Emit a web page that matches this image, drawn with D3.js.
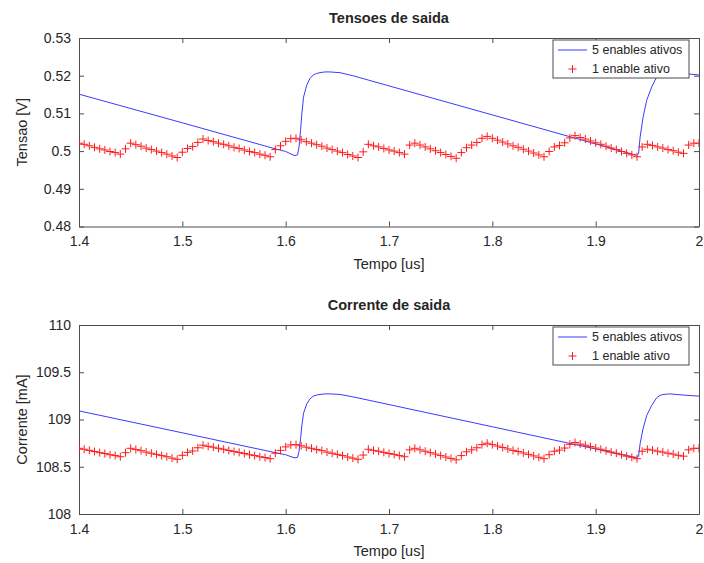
<!DOCTYPE html>
<html>
<head>
<meta charset="utf-8">
<script src="https://cdn.jsdelivr.net/npm/d3@7"></script>
<style>
  body { margin: 0; background: #fff; }
  svg { display: block; }
  text { font-family: "Liberation Sans", Arial, Helvetica, sans-serif; fill: #262626; }
</style>
</head>
<body>
<svg id="chart" width="704" height="563"></svg>
<script>
// ---- data ----------------------------------------------------------------
// "5 enables ativos": smooth waveform, sampled at its corners
const timeFive = [1.400, 1.500, 1.590, 1.600, 1.6061, 1.6090, 1.6115, 1.6129, 1.6144, 1.6158, 1.6173,
  1.6204, 1.6236, 1.6267, 1.6300, 1.6332, 1.6380, 1.6429, 1.6526, 1.6650, 1.700, 1.800, 1.900, 1.9300, 1.9352,
  1.9397, 1.9415, 1.9430, 1.9459, 1.9494, 1.9542, 1.9591, 1.9620, 1.9652, 1.9720, 1.9848, 2.000];
const voltFive = [0.5151, 0.5075, 0.5006, 0.4999, 0.4991, 0.4988, 0.4990, 0.5010, 0.5055, 0.5103, 0.5143,
  0.5175, 0.5193, 0.5202, 0.5206, 0.5208, 0.5210, 0.5210, 0.5208, 0.5200, 0.5173, 0.5096, 0.5019, 0.4996, 0.4992,
  0.4989, 0.4993, 0.5037, 0.5090, 0.5135, 0.5170, 0.5197, 0.5204, 0.5208, 0.5210, 0.5206, 0.5202];
const currFive = [109.091, 108.859, 108.649, 108.627, 108.603, 108.594, 108.600, 108.661, 108.798, 108.945, 109.067,
  109.164, 109.219, 109.247, 109.259, 109.265, 109.271, 109.271, 109.265, 109.240, 109.158, 108.923, 108.688, 108.618, 108.606,
  108.597, 108.609, 108.743, 108.905, 109.042, 109.149, 109.231, 109.253, 109.265, 109.271, 109.259, 109.247];

// "1 enable ativo": one marker per simulation sample
const timeOne = [
  1.400, 1.405, 1.410, 1.415, 1.420, 1.425, 1.430, 1.435, 1.440, 1.445,
  1.450, 1.455, 1.460, 1.465, 1.470, 1.475, 1.480, 1.485, 1.490, 1.495,
  1.500, 1.505, 1.510, 1.515, 1.520, 1.525, 1.530, 1.535, 1.540, 1.545,
  1.550, 1.555, 1.560, 1.565, 1.570, 1.575, 1.580, 1.585, 1.590, 1.595,
  1.600, 1.605, 1.610, 1.615, 1.620, 1.625, 1.630, 1.635, 1.640, 1.645,
  1.650, 1.655, 1.660, 1.665, 1.670, 1.675, 1.680, 1.685, 1.690, 1.695,
  1.700, 1.705, 1.710, 1.715, 1.720, 1.725, 1.730, 1.735, 1.740, 1.745,
  1.750, 1.755, 1.760, 1.765, 1.770, 1.775, 1.780, 1.785, 1.790, 1.795,
  1.800, 1.805, 1.810, 1.815, 1.820, 1.825, 1.830, 1.835, 1.840, 1.845,
  1.850, 1.855, 1.860, 1.865, 1.870, 1.875, 1.880, 1.885, 1.890, 1.895,
  1.900, 1.905, 1.910, 1.915, 1.920, 1.925, 1.930, 1.935, 1.940, 1.945,
  1.950, 1.955, 1.960, 1.965, 1.970, 1.975, 1.980, 1.985, 1.990, 1.995,
  2.000];
const voltOne = [
  0.5021, 0.5018, 0.5014, 0.5010, 0.5006, 0.5003, 0.4999, 0.4996, 0.4992, 0.5006,
  0.5021, 0.5017, 0.5013, 0.5008, 0.5004, 0.5000, 0.4996, 0.4992, 0.4987, 0.4983,
  0.4997, 0.5007, 0.5012, 0.5023, 0.5032, 0.5028, 0.5025, 0.5021, 0.5018, 0.5014,
  0.5010, 0.5007, 0.5003, 0.4999, 0.4996, 0.4992, 0.4989, 0.4985, 0.5004, 0.5014,
  0.5026, 0.5033, 0.5034, 0.5030, 0.5025, 0.5021, 0.5017, 0.5013, 0.5008, 0.5004,
  0.5000, 0.4996, 0.4991, 0.4987, 0.4983, 0.4998, 0.5018, 0.5014, 0.5011, 0.5007,
  0.5003, 0.5000, 0.4996, 0.4992, 0.5016, 0.5021, 0.5016, 0.5011, 0.5006, 0.5001,
  0.4996, 0.4991, 0.4986, 0.4981, 0.4996, 0.5009, 0.5016, 0.5023, 0.5034, 0.5039,
  0.5034, 0.5029, 0.5024, 0.5019, 0.5014, 0.5010, 0.5005, 0.5000, 0.4995, 0.4990,
  0.4985, 0.4999, 0.5011, 0.5015, 0.5022, 0.5035, 0.5041, 0.5036, 0.5032, 0.5027,
  0.5022, 0.5018, 0.5013, 0.5008, 0.5004, 0.4999, 0.4994, 0.4990, 0.4985, 0.5011,
  0.5018, 0.5015, 0.5011, 0.5008, 0.5004, 0.5001, 0.4997, 0.4994, 0.5016, 0.5021,
  0.5021];
const currOne = [
  108.695, 108.685, 108.673, 108.661, 108.649, 108.640, 108.627, 108.618, 108.606, 108.649,
  108.695, 108.682, 108.670, 108.655, 108.643, 108.631, 108.618, 108.606, 108.591, 108.579,
  108.621, 108.652, 108.667, 108.701, 108.728, 108.716, 108.707, 108.695, 108.685, 108.673,
  108.661, 108.652, 108.640, 108.627, 108.618, 108.606, 108.597, 108.585, 108.643, 108.673,
  108.710, 108.731, 108.734, 108.722, 108.707, 108.695, 108.682, 108.670, 108.655, 108.643,
  108.631, 108.618, 108.603, 108.591, 108.579, 108.624, 108.685, 108.673, 108.664, 108.652,
  108.640, 108.631, 108.618, 108.606, 108.679, 108.695, 108.679, 108.664, 108.649, 108.634,
  108.618, 108.603, 108.588, 108.573, 108.618, 108.658, 108.679, 108.701, 108.734, 108.749,
  108.734, 108.719, 108.704, 108.688, 108.673, 108.661, 108.646, 108.631, 108.615, 108.600,
  108.585, 108.627, 108.664, 108.676, 108.698, 108.737, 108.756, 108.740, 108.728, 108.713,
  108.698, 108.685, 108.670, 108.655, 108.643, 108.627, 108.612, 108.600, 108.585, 108.664,
  108.685, 108.676, 108.664, 108.655, 108.643, 108.634, 108.621, 108.612, 108.679, 108.695,
  108.695];

const timeTicks = [1.4, 1.5, 1.6, 1.7, 1.8, 1.9, 2];
const voltTicks = [0.48, 0.49, 0.50, 0.51, 0.52, 0.53];
const currTicks = [108, 108.5, 109, 109.5, 110];
const seriesNames = ["5 enables ativos", "1 enable ativo"];

// ---- drawing -------------------------------------------------------------
const svg = d3.select("#chart");
const AXIS = "#4d4d4d";
const BLUE = "#3b3bff";
const RED = "#ff1a1a";
const fmt = d => String(+d.toFixed(3));

const x = d3.scaleLinear().domain([1.4, 2.0]).range([79, 699]);

function crossPath(s) {
  return `M${-s},0H${s}M0,${-s}V${s}`;
}

function drawPanel(opt) {
  const y = d3.scaleLinear().domain(opt.domain).range([opt.bottom, opt.top]);
  const g = svg.append("g");
  const clipId = "clip-" + opt.key;

  g.append("clipPath").attr("id", clipId)
    .append("rect")
    .attr("x", x.range()[0]).attr("y", opt.top)
    .attr("width", x.range()[1] - x.range()[0]).attr("height", opt.bottom - opt.top);

  // axes: ticks pointing inward on all four sides
  const styleAxis = sel => {
    sel.select(".domain").attr("stroke", AXIS).attr("stroke-width", 1);
    sel.selectAll(".tick line").attr("stroke", AXIS).attr("stroke-width", 1);
    sel.selectAll(".tick text").attr("fill", "#262626").style("font-size", "14px")
      .style("font-family", '"Liberation Sans", Arial, sans-serif');
  };
  g.append("g").attr("transform", `translate(0,${opt.bottom})`)
    .call(d3.axisBottom(x).tickValues(timeTicks).tickFormat(fmt).tickSize(-5).tickSizeOuter(0).tickPadding(10))
    .call(styleAxis);
  g.append("g").attr("transform", `translate(0,${opt.top})`)
    .call(d3.axisTop(x).tickValues(timeTicks).tickFormat("").tickSize(-5).tickSizeOuter(0))
    .call(styleAxis);
  g.append("g").attr("transform", `translate(${x.range()[0]},0)`)
    .call(d3.axisLeft(y).tickValues(opt.ticks).tickFormat(fmt).tickSize(-5).tickSizeOuter(0).tickPadding(8))
    .call(styleAxis);
  g.append("g").attr("transform", `translate(${x.range()[1]},0)`)
    .call(d3.axisRight(y).tickValues(opt.ticks).tickFormat("").tickSize(-5).tickSizeOuter(0))
    .call(styleAxis);

  const plot = g.append("g").attr("clip-path", `url(#${clipId})`);

  // smooth trace
  const line = d3.line().x(d => x(d[0])).y(d => y(d[1])).curve(d3.curveLinear);
  plot.append("path")
    .datum(opt.tFive.map((t, i) => [t, opt.vFive[i]]))
    .attr("d", line)
    .attr("fill", "none").attr("stroke", BLUE).attr("stroke-width", 1)
    .attr("stroke-linejoin", "round");

  // sampled trace as "+" markers
  plot.selectAll("path.mk")
    .data(opt.tOne.map((t, i) => [t, opt.vOne[i]]))
    .join("path").attr("class", "mk")
    .attr("transform", d => `translate(${x(d[0])},${y(d[1])})`)
    .attr("d", crossPath(4))
    .attr("fill", "none").attr("stroke", RED).attr("stroke-width", 1);

  // titles
  g.append("text")
    .attr("x", (x.range()[0] + x.range()[1]) / 2).attr("y", opt.top - 15)
    .attr("text-anchor", "middle")
    .style("font-size", "14.5px").style("font-weight", "bold").attr("fill", "#000")
    .text(opt.title);
  g.append("text")
    .attr("x", (x.range()[0] + x.range()[1]) / 2).attr("y", opt.bottom + 42)
    .attr("text-anchor", "middle")
    .style("font-size", "14.5px")
    .text("Tempo [us]");
  g.append("text")
    .attr("transform", `translate(27,${(opt.top + opt.bottom) / 2}) rotate(-90)`)
    .attr("text-anchor", "middle")
    .style("font-size", "14.5px")
    .text(opt.ylabel);

  // legend (opaque, upper right)
  const lx = 553, lw = 136, lh = 38, ly = opt.top + 2;
  const lg = g.append("g");
  lg.append("rect").attr("x", lx).attr("y", ly).attr("width", lw).attr("height", lh)
    .attr("fill", "#fff").attr("stroke", AXIS).attr("stroke-width", 1);
  const rows = [ly + 10, ly + 29];
  lg.append("line").attr("x1", lx + 5).attr("x2", lx + 34)
    .attr("y1", rows[0]).attr("y2", rows[0])
    .attr("stroke", BLUE).attr("stroke-width", 1);
  lg.append("path").attr("transform", `translate(${lx + 19.5},${rows[1]})`)
    .attr("d", crossPath(4)).attr("fill", "none").attr("stroke", RED).attr("stroke-width", 1);
  seriesNames.forEach((name, i) => {
    lg.append("text").attr("x", lx + 39).attr("y", rows[i]).attr("dy", "0.35em")
      .style("font-size", "12.5px").text(name);
  });
}

drawPanel({
  key: "v", top: 38, bottom: 226.5, domain: [0.48, 0.53], ticks: voltTicks,
  title: "Tensoes de saida", ylabel: "Tensao [V]",
  tFive: timeFive, vFive: voltFive, tOne: timeOne, vOne: voltOne
});
drawPanel({
  key: "i", top: 325, bottom: 514, domain: [108, 110], ticks: currTicks,
  title: "Corrente de saida", ylabel: "Corrente [mA]",
  tFive: timeFive, vFive: currFive, tOne: timeOne, vOne: currOne
});
</script>
</body>
</html>
